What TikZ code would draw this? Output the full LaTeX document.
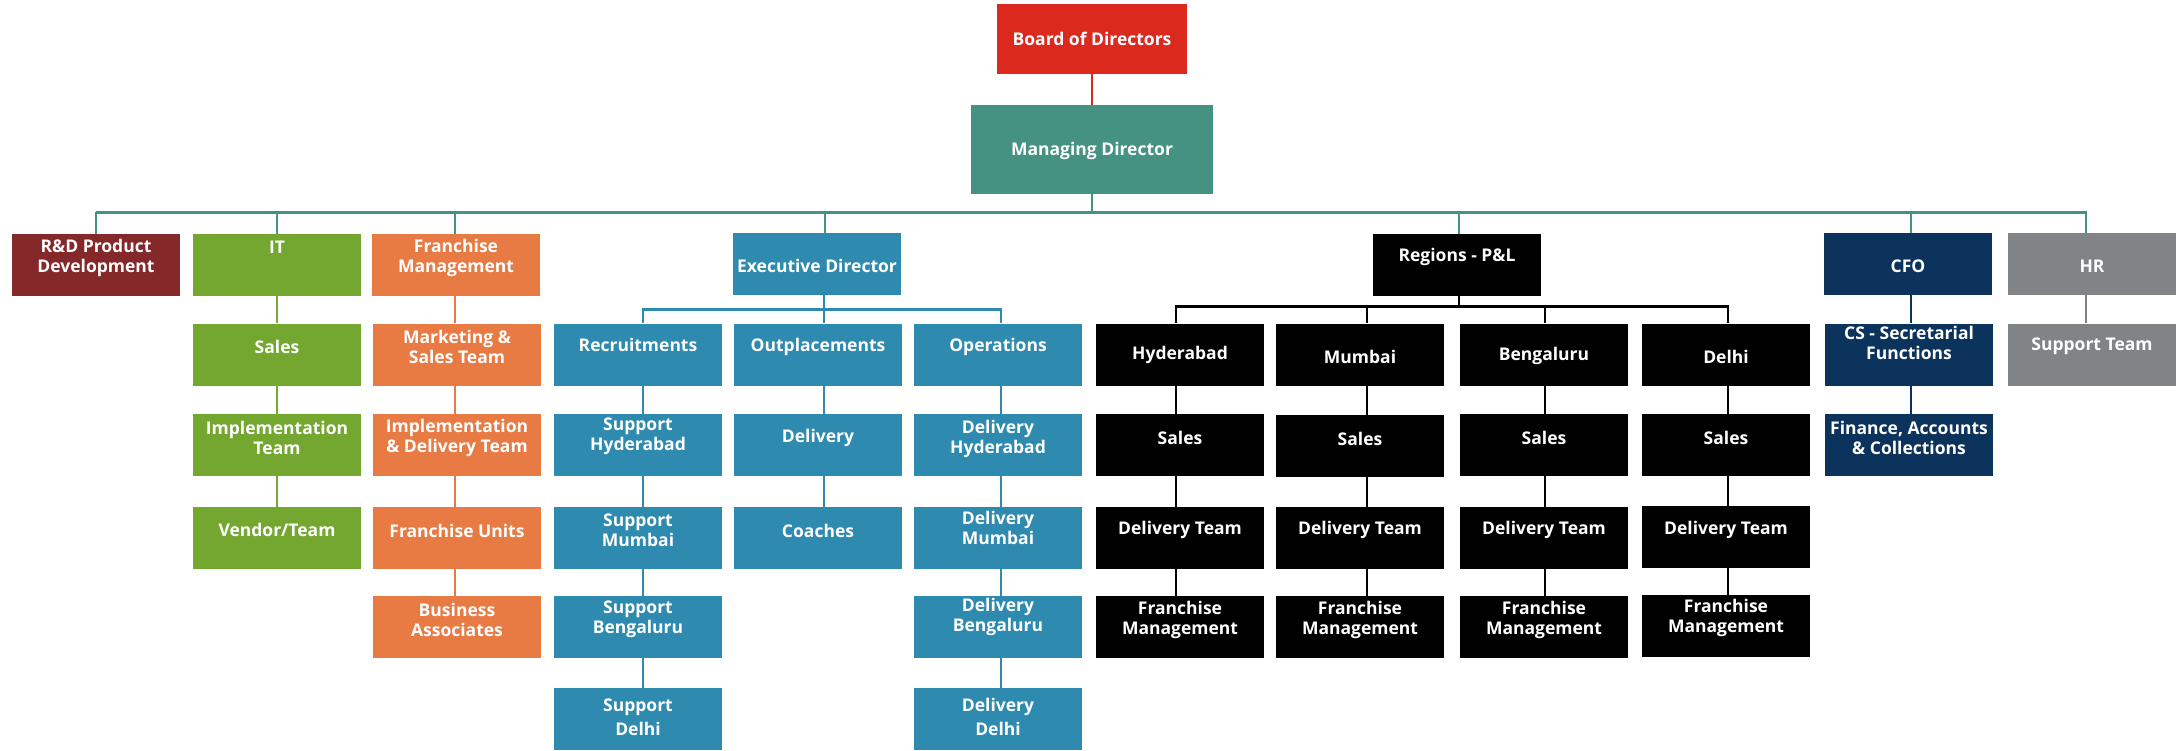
\documentclass[tikz,border=0pt]{standalone}
\usepackage{fontspec}
\setmainfont{Open Sans}
\definecolor{cRed}{RGB}{220,41,30}
\definecolor{cTeal}{RGB}{69,146,131}
\definecolor{cMaroon}{RGB}{132,40,42}
\definecolor{cGreen}{RGB}{116,167,48}
\definecolor{cOrange}{RGB}{232,122,67}
\definecolor{cBlue}{RGB}{46,138,174}
\definecolor{cNavy}{RGB}{12,51,92}
\definecolor{cGray}{RGB}{128,132,134}
\newcommand{\bt}[2]{\raisebox{\dimexpr #1pt - 6.5pt\relax}[0pt][0pt]{\begin{tabular}{@{}c@{}}#2\end{tabular}}}
\tikzset{
  box/.style={rectangle, inner sep=0pt, minimum width=168pt, minimum height=62pt,
    text=white, font=\bfseries\fontsize{17.5}{20}\selectfont},
  ln/.style={line width=2pt},
  busline/.style={line width=3pt}
}
\begin{document}
\begin{tikzpicture}[x=1pt,y=-1pt]
\useasboundingbox (0,0) rectangle (2183,751);
% top
\node[box,fill=cRed,minimum width=190pt,minimum height=70pt] (board) at (1092,39) {\bt{0}{Board of Directors}};
\node[box,fill=cTeal,minimum width=242pt,minimum height=89pt] (md) at (1092,149.5) {\bt{0}{Managing Director}};
% row 1
\node[box,fill=cMaroon] (rd) at (96,265) {\bt{8.5}{R\&D Product\\Development}};
\node[box,fill=cGreen] (it) at (277,265) {\bt{18}{IT}};
\node[box,fill=cOrange] (fm) at (456,265) {\bt{9}{Franchise\\Management}};
\node[box,fill=cBlue] (ed) at (817,264) {\bt{-2}{Executive Director}};
\node[box,fill=black] (rg) at (1457,265) {\bt{10}{Regions - P\&L}};
\node[box,fill=cNavy] (cfo) at (1908,264) {\bt{-2}{CFO}};
\node[box,fill=cGray] (hr) at (2092,264) {\bt{-2}{HR}};
% row 2
\node[box,fill=cGreen] (its) at (277,354.5) {\bt{7.5}{Sales}};
\node[box,fill=cOrange] (mkt) at (457,354.5) {\bt{7.5}{Marketing \&\\Sales Team}};
\node[box,fill=cBlue] (rec) at (638,354.5) {\bt{9.5}{Recruitments}};
\node[box,fill=cBlue] (out) at (818,354.5) {\bt{9.5}{Outplacements}};
\node[box,fill=cBlue] (ops) at (998,354.5) {\bt{9.5}{Operations}};
\node[box,fill=black] (hyd) at (1180,354.5) {\bt{1.5}{Hyderabad}};
\node[box,fill=black] (mum) at (1360,354.5) {\bt{-2.5}{Mumbai}};
\node[box,fill=black] (ben) at (1544,354.5) {\bt{0.5}{Bengaluru}};
\node[box,fill=black] (del) at (1726,354.5) {\bt{-2.5}{Delhi}};
\node[box,fill=cNavy] (cs) at (1909,354.5) {\bt{11.5}{CS - Secretarial\\Functions}};
\node[box,fill=cGray] (sup) at (2092,354.5) {\bt{10.5}{Support Team}};
% row 3
\node[box,fill=cGreen] (imp) at (277,445) {\bt{6.5}{Implementation\\Team}};
\node[box,fill=cOrange] (ids) at (457,445) {\bt{9}{Implementation\\\& Delivery Team}};
\node[box,fill=cBlue] (sh) at (638,445) {\bt{10.5}{Support\\Hyderabad}};
\node[box,fill=cBlue] (dlv) at (818,445) {\bt{9}{Delivery}};
\node[box,fill=cBlue] (dh) at (998,445) {\bt{8}{Delivery\\Hyderabad}};
\node[box,fill=black] (s1) at (1180,445) {\bt{7}{Sales}};
\node[box,fill=black] (s2) at (1360,446) {\bt{7}{Sales}};
\node[box,fill=black] (s3) at (1544,445) {\bt{7}{Sales}};
\node[box,fill=black] (s4) at (1726,445) {\bt{7}{Sales}};
\node[box,fill=cNavy] (fin) at (1909,445) {\bt{6.5}{Finance, Accounts\\\& Collections}};
% row 4
\node[box,fill=cGreen] (ven) at (277,538) {\bt{8}{Vendor/Team}};
\node[box,fill=cOrange] (fu) at (457,538) {\bt{7}{Franchise Units}};
\node[box,fill=cBlue] (sm) at (638,538) {\bt{7.5}{Support\\Mumbai}};
\node[box,fill=cBlue] (co) at (818,538) {\bt{7}{Coaches}};
\node[box,fill=cBlue] (dm) at (998,538) {\bt{9.5}{Delivery\\Mumbai}};
\node[box,fill=black] (t1) at (1180,538) {\bt{10}{Delivery Team}};
\node[box,fill=black] (t2) at (1360,538) {\bt{10}{Delivery Team}};
\node[box,fill=black] (t3) at (1544,538) {\bt{10}{Delivery Team}};
\node[box,fill=black] (t4) at (1726,537) {\bt{9}{Delivery Team}};
% row 5
\node[box,fill=cOrange] (ba) at (457,627) {\bt{7}{Business\\Associates}};
\node[box,fill=cBlue] (sb) at (638,627) {\bt{10}{Support\\Bengaluru}};
\node[box,fill=cBlue] (db) at (998,627) {\bt{12}{Delivery\\Bengaluru}};
\node[box,fill=black] (f1) at (1180,627) {\bt{9}{Franchise\\Management}};
\node[box,fill=black] (f2) at (1360,627) {\bt{9}{Franchise\\Management}};
\node[box,fill=black] (f3) at (1544,627) {\bt{9}{Franchise\\Management}};
\node[box,fill=black] (f4) at (1726,626) {\bt{9.5}{Franchise\\Management}};
% row 6
\node[box,fill=cBlue] (sd) at (638,719) {\bt{2}{Support\\[4pt]Delhi}};
\node[box,fill=cBlue] (dd) at (998,719) {\bt{2}{Delivery\\[4pt]Delhi}};

% connectors: board -> md
\draw[ln,cRed] (board.south) -- (md.north);
% main bus
\coordinate (b0) at (1092,213);
\coordinate (b0L) at (96,213);
\coordinate (b0R) at (2087,213);
\draw[busline,cTeal] (b0L) -- (b0R);
\draw[ln,cTeal] (md.south) -- (b0);
\draw[ln,cTeal] (b0) -| (rd.north);
\draw[ln,cTeal] (b0) -| (it.north);
\draw[ln,cTeal] (b0) -| ([xshift=-1pt]fm.north);
\draw[ln,cTeal] (b0) -| ([xshift=8pt]ed.north);
\draw[ln,cTeal] (b0) -| ([xshift=2pt]rg.north);
\draw[ln,cTeal] (b0) -| ([xshift=3pt]cfo.north);
\draw[ln,cTeal] (b0) -| ([xshift=-6pt]hr.north);
% executive bus
\coordinate (b1) at (824,309);
\coordinate (b1L) at (643,309);
\coordinate (b1R) at (1001,309);
\draw[busline,cBlue] (b1L) -- (b1R);
\draw[ln,cBlue] ([xshift=7pt]ed.south) -- (b1);
\draw[ln,cBlue] (b1) -| ([xshift=5pt]rec.north);
\draw[ln,cBlue] (b1) -| ([xshift=6pt]out.north);
\draw[ln,cBlue] (b1) -| ([xshift=3pt]ops.north);
% regions bus
\coordinate (b2) at (1459,306);
\coordinate (b2L) at (1176,306);
\coordinate (b2R) at (1728,306);
\draw[busline,black] (b2L) -- (b2R);
\draw[ln,black] ([xshift=2pt]rg.south) -- (b2);
\draw[ln,black] (b2) -| ([xshift=-4pt]hyd.north);
\draw[ln,black] (b2) -| ([xshift=7pt]mum.north);
\draw[ln,black] (b2) -| ([xshift=1pt]ben.north);
\draw[ln,black] (b2) -| ([xshift=2pt]del.north);
% IT column
\draw[ln,cGreen] (it.south) -- (its.north);
\draw[ln,cGreen] (its.south) -- (imp.north);
\draw[ln,cGreen] (imp.south) -- (ven.north);
% Franchise column
\draw[ln,cOrange] ([xshift=-1pt]fm.south) -- ([xshift=-2pt]mkt.north);
\draw[ln,cOrange] ([xshift=-2pt]mkt.south) -- ([xshift=-2pt]ids.north);
\draw[ln,cOrange] ([xshift=-2pt]ids.south) -- ([xshift=-2pt]fu.north);
\draw[ln,cOrange] ([xshift=-2pt]fu.south) -- ([xshift=-2pt]ba.north);
% exec columns
\draw[ln,cBlue] ([xshift=5pt]rec.south) -- ([xshift=5pt]sh.north);
\draw[ln,cBlue] ([xshift=5pt]sh.south) -- ([xshift=5pt]sm.north);
\draw[ln,cBlue] ([xshift=5pt]sm.south) -- ([xshift=5pt]sb.north);
\draw[ln,cBlue] ([xshift=5pt]sb.south) -- ([xshift=5pt]sd.north);
\draw[ln,cBlue] ([xshift=6pt]out.south) -- ([xshift=6pt]dlv.north);
\draw[ln,cBlue] ([xshift=6pt]dlv.south) -- ([xshift=6pt]co.north);
\draw[ln,cBlue] ([xshift=3pt]ops.south) -- ([xshift=3pt]dh.north);
\draw[ln,cBlue] ([xshift=3pt]dh.south) -- ([xshift=3pt]dm.north);
\draw[ln,cBlue] ([xshift=3pt]dm.south) -- ([xshift=3pt]db.north);
\draw[ln,cBlue] ([xshift=3pt]db.south) -- ([xshift=3pt]dd.north);
% region columns
\draw[ln,black] ([xshift=-4pt]hyd.south) -- ([xshift=-4pt]s1.north);
\draw[ln,black] ([xshift=-4pt]s1.south) -- ([xshift=-4pt]t1.north);
\draw[ln,black] ([xshift=-4pt]t1.south) -- ([xshift=-4pt]f1.north);
\draw[ln,black] ([xshift=7pt]mum.south) -- ([xshift=7pt]s2.north);
\draw[ln,black] ([xshift=7pt]s2.south) -- ([xshift=7pt]t2.north);
\draw[ln,black] ([xshift=7pt]t2.south) -- ([xshift=7pt]f2.north);
\draw[ln,black] ([xshift=1pt]ben.south) -- ([xshift=1pt]s3.north);
\draw[ln,black] ([xshift=1pt]s3.south) -- ([xshift=1pt]t3.north);
\draw[ln,black] ([xshift=1pt]t3.south) -- ([xshift=1pt]f3.north);
\draw[ln,black] ([xshift=2pt]del.south) -- ([xshift=2pt]s4.north);
\draw[ln,black] ([xshift=2pt]s4.south) -- ([xshift=2pt]t4.north);
\draw[ln,black] ([xshift=2pt]t4.south) -- ([xshift=2pt]f4.north);
% CFO / HR
\draw[ln,cNavy] ([xshift=3pt]cfo.south) -- ([xshift=2pt]cs.north);
\draw[ln,cNavy] ([xshift=2pt]cs.south) -- ([xshift=2pt]fin.north);
\draw[ln,cGray] ([xshift=-6pt]hr.south) -- ([xshift=-6pt]sup.north);
\end{tikzpicture}
\end{document}
